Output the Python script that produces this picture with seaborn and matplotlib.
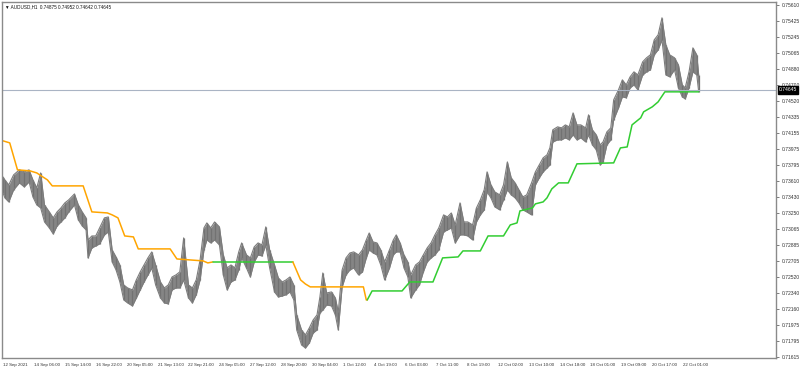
import numpy as np
import pandas as pd
import matplotlib
matplotlib.use("Agg")
import matplotlib.pyplot as plt
import seaborn as sns

# ---------------- data ----------------
price_bar = [0, 2, 6, 11, 17, 22, 27, 31, 35, 39, 43, 48, 52, 56, 60, 64, 68, 74, 78, 82, 86, 88, 92, 96, 100,
             105, 109, 113, 117, 121, 125, 129, 134, 138, 142, 146, 150, 154, 158, 163, 167, 171, 175, 179, 183,
             187, 192, 196, 200, 204, 208, 211, 215, 219, 224, 228, 232, 236, 240, 244, 247, 252, 256, 260, 264,
             268, 272, 276, 281, 285, 289, 293, 297, 301, 304, 309, 313, 317, 321, 325, 328, 331, 335, 340, 344,
             347, 351, 355, 359, 363, 368, 372, 376, 379, 383, 387, 391, 395, 400, 404, 407, 411, 415, 419, 422,
             427, 431, 435, 439, 443, 447, 451, 456, 460, 464, 468, 473, 477, 481, 486, 490, 494, 498, 501, 505,
             509, 514, 518, 522, 526, 530, 534, 538, 542, 547, 551, 555, 559, 563, 566, 569, 574, 578, 582, 586,
             590, 594, 598, 603, 606, 610, 614, 618, 621, 625, 629, 632, 637, 641, 645, 649, 653, 657, 662, 666,
             670, 674, 678, 682, 686, 690, 695, 699, 703, 706, 710, 714, 718, 720]
price_high = [0.73658, 0.73624, 0.73567, 0.73681, 0.73738, 0.73715, 0.73738, 0.73624, 0.73533, 0.73703,
              0.73340, 0.73261, 0.73193, 0.73261, 0.73306, 0.73363, 0.73397, 0.73465, 0.73340, 0.73261,
              0.73193, 0.72943, 0.72988, 0.72988, 0.73079, 0.73193, 0.73204, 0.72830, 0.72750, 0.72659,
              0.72432, 0.72398, 0.72376, 0.72489, 0.72580, 0.72659, 0.72739, 0.72807, 0.72659, 0.72466,
              0.72398, 0.72432, 0.72523, 0.72546, 0.72580, 0.72966, 0.72432, 0.72398, 0.72489, 0.72716,
              0.73079, 0.73136, 0.73079, 0.73147, 0.73091, 0.72773, 0.72625, 0.72659, 0.72625, 0.72807,
              0.72909, 0.72773, 0.72739, 0.72864, 0.72909, 0.72886, 0.73091, 0.72830, 0.72659, 0.72512,
              0.72466, 0.72489, 0.72523, 0.72432, 0.72092, 0.71922, 0.71865, 0.71944, 0.72035, 0.72092,
              0.72296, 0.72568, 0.72341, 0.72353, 0.72285, 0.72126, 0.72603, 0.72739, 0.72795, 0.72807,
              0.72773, 0.72830, 0.72943, 0.73022, 0.72920, 0.72909, 0.72830, 0.72693, 0.72830, 0.72943,
              0.73000, 0.72909, 0.72773, 0.72693, 0.72546, 0.72659, 0.72693, 0.72773, 0.72852, 0.72909,
              0.73000, 0.73079, 0.73227, 0.73204, 0.73249, 0.73113, 0.73363, 0.73147, 0.73147, 0.73113,
              0.73306, 0.73397, 0.73511, 0.73715, 0.73567, 0.73488, 0.73454, 0.73567, 0.73828, 0.73647,
              0.73590, 0.73511, 0.73431, 0.73454, 0.73590, 0.73715, 0.73794, 0.73874, 0.73908, 0.73987,
              0.74192, 0.74226, 0.74214, 0.74248, 0.74226, 0.74384, 0.74248, 0.74248, 0.74214, 0.74362,
              0.74192, 0.74135, 0.74021, 0.74055, 0.74169, 0.74214, 0.74532, 0.74646, 0.74759, 0.74702,
              0.74793, 0.74850, 0.74815, 0.74963, 0.75009, 0.75043, 0.75213, 0.75270, 0.75463, 0.75156,
              0.75043, 0.75009, 0.74929, 0.74702, 0.74668, 0.74850, 0.75122, 0.75043, 0.74815]
price_low = [0.73476, 0.73420, 0.73374, 0.73511, 0.73590, 0.73545, 0.73601, 0.73431, 0.73340, 0.73306,
             0.73147, 0.73079, 0.73011, 0.73102, 0.73147, 0.73193, 0.73261, 0.73340, 0.73170, 0.73102,
             0.73057, 0.72739, 0.72852, 0.72875, 0.72898, 0.73000, 0.73034, 0.72693, 0.72603, 0.72466,
             0.72262, 0.72228, 0.72194, 0.72285, 0.72376, 0.72466, 0.72546, 0.72625, 0.72432, 0.72285,
             0.72228, 0.72217, 0.72376, 0.72398, 0.72398, 0.72489, 0.72285, 0.72228, 0.72322, 0.72489,
             0.72830, 0.72943, 0.72909, 0.72943, 0.72886, 0.72546, 0.72376, 0.72466, 0.72489, 0.72603,
             0.72739, 0.72625, 0.72523, 0.72693, 0.72773, 0.72761, 0.72886, 0.72625, 0.72353, 0.72296,
             0.72307, 0.72322, 0.72353, 0.72262, 0.71922, 0.71751, 0.71717, 0.71774, 0.71887, 0.71922,
             0.72114, 0.72149, 0.72205, 0.72194, 0.72092, 0.71922, 0.72410, 0.72546, 0.72603, 0.72625,
             0.72546, 0.72580, 0.72739, 0.72830, 0.72795, 0.72773, 0.72659, 0.72489, 0.72625, 0.72773,
             0.72807, 0.72807, 0.72625, 0.72523, 0.72285, 0.72376, 0.72432, 0.72580, 0.72693, 0.72739,
             0.72773, 0.72830, 0.73034, 0.73057, 0.73079, 0.72909, 0.73000, 0.73000, 0.72988, 0.72943,
             0.73147, 0.73227, 0.73284, 0.73488, 0.73420, 0.73318, 0.73284, 0.73397, 0.73511, 0.73454,
             0.73420, 0.73363, 0.73284, 0.73261, 0.73227, 0.73567, 0.73647, 0.73715, 0.73760, 0.73794,
             0.74055, 0.74078, 0.74078, 0.74101, 0.74078, 0.74135, 0.74078, 0.74101, 0.74055, 0.74135,
             0.74021, 0.73965, 0.73794, 0.73828, 0.74021, 0.74078, 0.74305, 0.74441, 0.74566, 0.74555,
             0.74668, 0.74702, 0.74646, 0.74815, 0.74850, 0.74873, 0.75043, 0.75100, 0.75213, 0.74815,
             0.74793, 0.74873, 0.74668, 0.74566, 0.74543, 0.74668, 0.74850, 0.74815, 0.74623]

stop_bar = [0, 7, 15, 28, 35, 38, 46, 51, 83, 92, 108, 113, 119, 126, 135, 140, 173, 180, 207, 212, 217,
            300, 308, 313, 318, 373, 376, 377, 382, 413, 421, 445, 455, 471, 476, 494, 502, 518, 525, 532,
            535, 548, 551, 559, 563, 568, 575, 585, 594, 632, 639, 646, 651, 660, 663, 672, 678, 685, 720]
stop_val = [0.74067, 0.74044, 0.73738, 0.73726, 0.73703, 0.73681, 0.73624, 0.73556, 0.73556, 0.73261,
            0.73249, 0.73227, 0.73193, 0.72988, 0.72977, 0.72841, 0.72841, 0.72727, 0.72705, 0.72682,
            0.72693, 0.72693, 0.72489, 0.72443, 0.72410, 0.72410, 0.72262, 0.72262, 0.72364, 0.72364,
            0.72466, 0.72466, 0.72739, 0.72750, 0.72818, 0.72818, 0.72988, 0.72988, 0.73113, 0.73136,
            0.73272, 0.73306, 0.73352, 0.73374, 0.73420, 0.73522, 0.73590, 0.73590, 0.73806, 0.73817,
            0.73987, 0.73998, 0.74248, 0.74328, 0.74396, 0.74453, 0.74509, 0.74623, 0.74623]
trend_switch_bars = [217, 300, 377]   # orange -> green -> orange -> green
trend_colors = ["#FFA500", "#32CD32", "#FFA500", "#32CD32"]

y_tick_labels = ["0.75610", "0.75425", "0.75245", "0.75065", "0.74880", "0.74700", "0.74520", "0.74335",
                 "0.74155", "0.73975", "0.73795", "0.73610", "0.73430", "0.73250", "0.73065", "0.72885",
                 "0.72705", "0.72520", "0.72340", "0.72160", "0.71975", "0.71795", "0.71615"]
x_tick_labels = ["12 Sep 2021", "14 Sep 06:00", "15 Sep 14:00", "16 Sep 22:00", "20 Sep 05:00",
                 "21 Sep 13:00", "22 Sep 21:00", "24 Sep 05:00", "27 Sep 12:00", "28 Sep 20:00",
                 "30 Sep 04:00", "1 Oct 12:00", "4 Oct 19:00", "6 Oct 03:00", "7 Oct 11:00", "8 Oct 19:00",
                 "12 Oct 02:00", "13 Oct 10:00", "14 Oct 18:00", "18 Oct 01:00", "19 Oct 09:00",
                 "20 Oct 17:00", "22 Oct 01:00"]
bars_per_label = 32
current_price = 0.74645
title_text = "\u25bc AUDUSD,H1  0.74875 0.74952 0.74642 0.74645"

# ---------------- plotting ----------------
sns.set_style("white")
plt.rcParams["font.family"] = ["Liberation Sans", "DejaVu Sans"]

fig = plt.figure(figsize=(8.0, 3.69), dpi=100)
ax = fig.add_axes([0.0025, 0.030, 0.9675, 0.965])

gray = "#7c7c7c"
price = pd.DataFrame({"bar": price_bar, "high": price_high, "low": price_low})
ax.fill_between(price["bar"], price["low"], price["high"], color="#858585", lw=0)
ax.vlines(price["bar"], price["low"], price["high"], color="#727272", lw=0.9)
sns.lineplot(data=price, x="bar", y="high", ax=ax, color=gray, lw=0.8, estimator=None)
sns.lineplot(data=price, x="bar", y="low", ax=ax, color=gray, lw=0.8, estimator=None)

# trailing stop line, split by trend
stop = pd.DataFrame({"bar": stop_bar, "val": stop_val})
edges = [stop["bar"].min()] + trend_switch_bars + [stop["bar"].max()]
for i in range(len(edges) - 1):
    lo_e, hi_e = edges[i], edges[i + 1]
    seg = stop[(stop["bar"] >= lo_e) & (stop["bar"] <= hi_e)]
    sns.lineplot(data=seg, x="bar", y="val", ax=ax, color=trend_colors[i], lw=1.1, estimator=None)

ax.axhline(current_price, color="#aab4c4", lw=0.8)

ax.set_xlim(-1, 800)
ax.set_ylim(0.71604, 0.75644)

# y axis on right
ax.yaxis.tick_right()
yt = [float(s) for s in y_tick_labels]
ax.set_yticks(yt)
ax.set_yticklabels(y_tick_labels, fontsize=3.6, color="#333333")
ax.tick_params(axis="y", direction="out", length=2.5, width=0.6, color="#666666", pad=1.5)

xt = [i * bars_per_label for i in range(len(x_tick_labels))]
ax.set_xticks(xt)
ax.set_xticklabels(x_tick_labels, fontsize=3.2, color="#333333", ha="left")
ax.tick_params(axis="x", direction="out", length=2.5, width=0.6, color="#666666", pad=1.5)

ax.set_xlabel("")
ax.set_ylabel("")
for sp in ax.spines.values():
    sp.set_visible(True)
    sp.set_color("#8a8a8a")
    sp.set_linewidth(1.0)

# current price box
ax.annotate("0.74645", xy=(1.0, current_price), xycoords=("axes fraction", "data"),
            xytext=(2, 0), textcoords="offset points", fontsize=3.6, color="white",
            ha="left", va="center",
            bbox=dict(boxstyle="square,pad=0.25", fc="black", ec="black"),
            annotation_clip=False)

ax.text(0.004, 0.992, title_text, transform=ax.transAxes, fontsize=3.3, color="#111111",
        ha="left", va="top")

fig.savefig("out.png", dpi=100)
